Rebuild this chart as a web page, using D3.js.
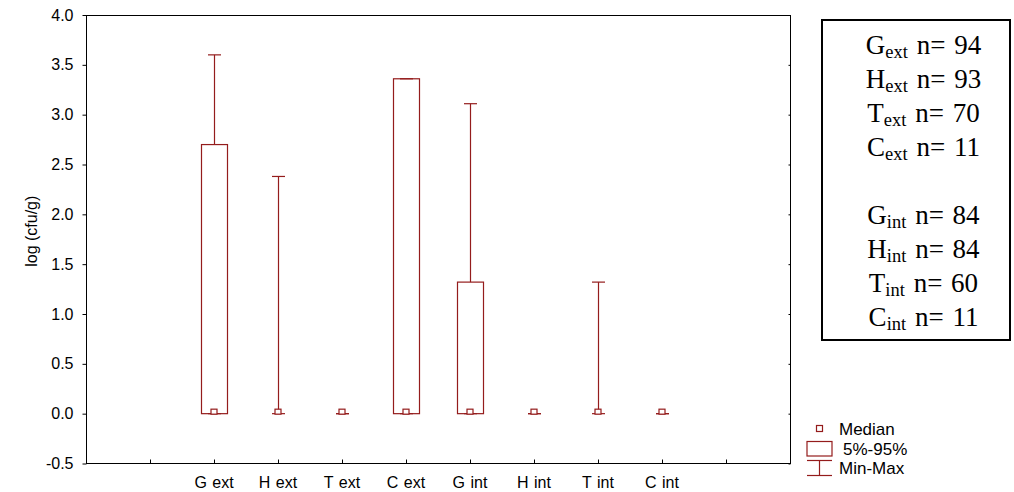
<!DOCTYPE html>
<html>
<head>
<meta charset="utf-8">
<script src="https://cdn.jsdelivr.net/npm/d3@7"></script>
<style>
  body { margin: 0; background: #fff; }
  svg text { font-family: "Liberation Sans", Arial, sans-serif; }
</style>
</head>
<body>
<svg id="chart" width="1014" height="492"></svg>
<script>
const categories = ["G ext", "H ext", "T ext", "C ext", "G int", "H int", "T int", "C int"];
const medians = [0, 0, 0, 0, 0, 0, 0, 0];
const p05 = [0, 0, 0, 0, 0, 0, 0, 0];
const p95 = [2.70, 0, 0, 3.36, 1.32, 0, 0, 0];
const mins = [0, 0, 0, 0, 0, 0, 0, 0];
const maxs = [3.60, 2.38, 0, 3.36, 3.11, 0, 1.32, 0];
const yTicks = [-0.5, 0, 0.5, 1, 1.5, 2, 2.5, 3, 3.5, 4];

const groups = ["G", "H", "T", "C", "G", "H", "T", "C"];
const subs = ["ext", "ext", "ext", "ext", "int", "int", "int", "int"];
const counts = [94, 93, 70, 11, 84, 84, 60, 11];

const RED = "#941c1c";
const plotL = 86, plotR = 790, plotT = 15, plotB = 463.5;

const svg = d3.select("#chart");

// slot 0 and 11 are the frame edges, categories sit on slots 2..9
const x = d3.scaleLinear().domain([0, 11]).range([plotL, plotR]);
const y = d3.scaleLinear().domain([-0.5, 4]).range([plotB, plotT]);

const data = categories.map(function(c, i) {
    return { name: c, slot: i + 2, med: medians[i], lo: p05[i], hi: p95[i], min: mins[i], max: maxs[i] };
});

// frame
svg.append("rect")
    .attr("x", plotL + 0.5).attr("y", plotT + 0.5)
    .attr("width", plotR - plotL).attr("height", plotB - plotT - 0.5)
    .attr("fill", "none").attr("stroke", "#000");

// left axis
const yAxis = svg.append("g")
    .attr("transform", "translate(" + (plotL + 0.5) + ",0)")
    .call(d3.axisLeft(y).tickValues(yTicks).tickSize(4).tickPadding(9)
        .tickFormat(function(d) { return d.toFixed(1); }));
yAxis.select(".domain").remove();
yAxis.selectAll("text").style("font-size", "16px").attr("fill", "#000");

// right axis ticks (inside)
svg.append("g")
    .attr("transform", "translate(" + (plotR + 0.5) + ",0)")
    .call(d3.axisLeft(y).tickValues(yTicks).tickSize(2).tickFormat(""))
    .select(".domain").remove();

// bottom ticks (inside)
const xAxis = svg.append("g")
    .attr("transform", "translate(0," + (plotB) + ")")
    .call(d3.axisTop(x).tickValues(d3.range(1, 11)).tickSize(4).tickFormat(""));
xAxis.select(".domain").remove();

svg.selectAll(".xlab")
    .data(data)
    .join("text")
    .attr("class", "xlab")
    .attr("x", function(d) { return x(d.slot); })
    .attr("y", plotB + 24.5)
    .attr("text-anchor", "middle")
    .style("font-size", "16px")
    .style("word-spacing", "1px")
    .text(function(d) { return d.name; });

// y label
svg.append("text")
    .attr("transform", "translate(37," + ((plotT + plotB) / 2 - 8) + ") rotate(-90)")
    .attr("text-anchor", "middle")
    .style("font-size", "16px")
    .text("log (cfu/g)");

// boxes
const BW = 26, CAP = 13;
const box = svg.append("g").attr("stroke", RED).attr("fill", "none").attr("stroke-width", 1.2);

data.forEach(function(d) {
    const cx = Math.round(x(d.slot)) + 0.5;
    // whiskers
    box.append("line").attr("x1", cx).attr("x2", cx).attr("y1", y(d.hi)).attr("y2", y(d.max));
    box.append("line").attr("x1", cx - CAP / 2).attr("x2", cx + CAP / 2).attr("y1", y(d.max)).attr("y2", y(d.max));
    box.append("line").attr("x1", cx).attr("x2", cx).attr("y1", y(d.lo)).attr("y2", y(d.min));
    box.append("line").attr("x1", cx - CAP / 2).attr("x2", cx + CAP / 2).attr("y1", y(d.min)).attr("y2", y(d.min));
    // 5%-95% box
    box.append("rect")
        .attr("x", cx - BW / 2).attr("y", y(d.hi))
        .attr("width", BW).attr("height", Math.max(0, y(d.lo) - y(d.hi)));
    // median
    box.append("rect")
        .attr("x", cx - 3.5).attr("y", y(d.med) - 4.5)
        .attr("width", 6).attr("height", 5)
        .attr("fill", "#fff");
});

// legend
const lg = svg.append("g");
lg.append("rect").attr("x", 816.5).attr("y", 425.5).attr("width", 6).attr("height", 6)
    .attr("fill", "#fff").attr("stroke", RED).attr("stroke-width", 1.2);
lg.append("rect").attr("x", 807).attr("y", 441.5).attr("width", 25).attr("height", 14.5)
    .attr("fill", "none").attr("stroke", RED).attr("stroke-width", 1.2);
lg.append("line").attr("x1", 807).attr("x2", 832).attr("y1", 460.5).attr("y2", 460.5).attr("stroke", RED).attr("stroke-width", 1.2);
lg.append("line").attr("x1", 807).attr("x2", 832).attr("y1", 475.5).attr("y2", 475.5).attr("stroke", RED).attr("stroke-width", 1.2);
lg.append("line").attr("x1", 819.5).attr("x2", 819.5).attr("y1", 460.5).attr("y2", 475.5).attr("stroke", RED).attr("stroke-width", 1.2);
const lgLabels = ["Median", "5%-95%", "Min-Max"];
const lgY = [435, 455, 474];
lg.selectAll("text")
    .data(lgLabels)
    .join("text")
    .attr("x", function(d, i) { return i === 1 ? 843 : 839; })
    .attr("y", function(d, i) { return lgY[i]; })
    .style("font-size", "17px")
    .text(function(d) { return d; });

// n box
svg.append("rect")
    .attr("x", 822).attr("y", 20).attr("width", 188).attr("height", 320)
    .attr("fill", "none").attr("stroke", "#000").attr("stroke-width", 2);

const nRows = counts.map(function(c, i) { return { g: groups[i], s: subs[i], n: c, row: i }; });
svg.selectAll(".nrow")
    .data(nRows)
    .join("text")
    .attr("class", "nrow")
    .attr("x", 923.5)
    .attr("y", function(d) { return 54 + d.row * 34 + (d.row >= 4 ? 34 : 0); })
    .attr("text-anchor", "middle")
    .style("font-family", "'Liberation Serif', 'Times New Roman', serif")
    .style("font-size", "27px")
    .style("word-spacing", "2px")
    .each(function(d) {
        const t = d3.select(this);
        t.append("tspan").text(d.g);
        t.append("tspan").attr("dy", 4).style("font-size", "18.5px").text(d.s);
        t.append("tspan").attr("dy", -4).text(" n= " + d.n);
    });
</script>
</body>
</html>
